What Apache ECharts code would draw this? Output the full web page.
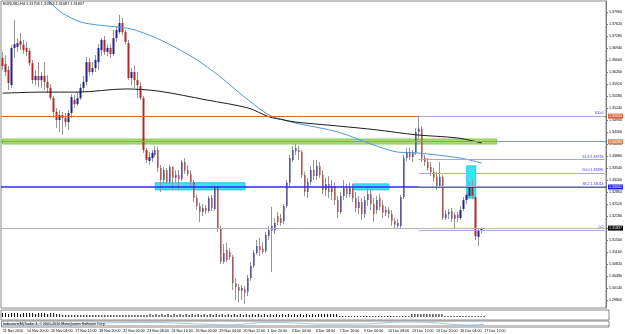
<!DOCTYPE html>
<html>
<head>
<meta charset="utf-8">
<title>EURUSD,H4</title>
<script src="https://cdn.jsdelivr.net/npm/echarts@6/dist/echarts.min.js"></script>
<style>
  html, body { margin: 0; padding: 0; background: #fff; }
  #chart { width: 625px; height: 334px; }
</style>
</head>
<body>
<div id="chart"></div>
<script>
// H4 bars, oldest first
var opens = [
  1.3666,1.3649,1.3632,1.3589,1.3694,1.3697,1.3714,1.3703,1.3694,1.3686,
  1.3651,1.3603,1.3615,1.3603,1.3615,1.3598,1.3581,1.3552,1.3513,1.3490,
  1.3504,1.3496,1.3484,1.3510,1.3547,1.3535,1.3552,1.3581,1.3598,1.3654,
  1.3626,1.3637,1.3654,1.3688,1.3717,1.3683,1.3694,1.3677,1.3722,1.3739,
  1.3765,1.3739,1.3708,1.3609,1.3626,1.3603,1.3586,1.3552,1.3405,1.3374,
  1.3382,1.3391,1.3405,1.3354,1.3320,1.3348,1.3314,1.3357,1.3326,1.3334,
  1.3323,1.3371,1.3348,1.3337,1.3314,1.3269,1.3246,1.3229,1.3241,1.3232,
  1.3269,1.3238,1.3300,1.3184,1.3088,1.3122,1.3116,1.3102,1.3028,1.3017,
  1.3006,1.3011,1.3003,1.3042,1.3076,1.3113,1.3133,1.3125,1.3119,1.3161,
  1.3176,1.3178,1.3218,1.3212,1.3204,1.3246,1.3312,1.3377,1.3402,1.3405,
  1.3399,1.3334,1.3286,1.3314,1.3348,1.3331,1.3360,1.3334,1.3292,1.3309,
  1.3286,1.3303,1.3263,1.3229,1.3275,1.3297,1.3280,1.3297,1.3269,1.3241,
  1.3258,1.3224,1.3263,1.3280,1.3252,1.3235,1.3269,1.3249,1.3227,1.3235,
  1.3224,1.3204,1.3190,1.3190,1.3272,1.3382,1.3399,1.3385,1.3397,1.3456,
  1.3465,1.3382,1.3371,1.3357,1.3343,1.3329,1.3303,1.3329,1.3212,1.3224,
  1.3232,1.3210,1.3221,1.3212,1.3238,1.3263,1.3275,1.3303,1.3272,1.3159,
  1.31758
];
var highs = [
  1.3683,1.3674,1.3643,1.3703,1.3773,1.3722,1.3737,1.3717,1.3711,1.3694,
  1.3660,1.3632,1.3654,1.3626,1.3654,1.3617,1.3592,1.3558,1.3524,1.3518,
  1.3513,1.3510,1.3518,1.3564,1.3561,1.3569,1.3592,1.3615,1.3669,1.3666,
  1.3654,1.3674,1.3705,1.3722,1.3728,1.3703,1.3705,1.3745,1.3756,1.3788,
  1.3779,1.3745,1.3717,1.3637,1.3643,1.3626,1.3598,1.3558,1.3411,1.3399,
  1.3405,1.3416,1.3414,1.3363,1.3357,1.3354,1.3363,1.3360,1.3348,1.3348,
  1.3377,1.3382,1.3363,1.3348,1.3320,1.3278,1.3255,1.3252,1.3249,1.3275,
  1.3278,1.3306,1.3303,1.3190,1.3139,1.3142,1.3127,1.3108,1.3042,1.3025,
  1.3023,1.3020,1.3051,1.3088,1.3122,1.3150,1.3156,1.3144,1.3173,1.3190,
  1.3244,1.3212,1.3229,1.3224,1.3252,1.3320,1.3391,1.3416,1.3422,1.3416,
  1.3405,1.3343,1.3326,1.3360,1.3377,1.3377,1.3371,1.3348,1.3326,1.3331,
  1.3320,1.3314,1.3275,1.3286,1.3320,1.3309,1.3312,1.3309,1.3286,1.3275,
  1.3269,1.3275,1.3297,1.3292,1.3269,1.3275,1.3280,1.3263,1.3246,1.3244,
  1.3235,1.3212,1.3210,1.3278,1.3391,1.3411,1.3411,1.3405,1.3467,1.3501,
  1.3473,1.3391,1.3382,1.3371,1.3354,1.3343,1.3371,1.3334,1.3235,1.3238,
  1.3241,1.3229,1.3229,1.3246,1.3272,1.3286,1.3314,1.3320,1.3280,1.3181,
  1.31853
];
var lows = [
  1.3632,1.3615,1.3575,1.3581,1.3666,1.3683,1.3688,1.3677,1.3671,1.3643,
  1.3592,1.3589,1.3583,1.3581,1.3575,1.3566,1.3547,1.3496,1.3467,1.3456,
  1.3448,1.3470,1.3462,1.3496,1.3524,1.3530,1.3547,1.3569,1.3589,1.3615,
  1.3617,1.3626,1.3632,1.3671,1.3674,1.3671,1.3666,1.3671,1.3711,1.3734,
  1.3731,1.3705,1.3603,1.3589,1.3581,1.3552,1.3547,1.3397,1.3368,1.3363,
  1.3371,1.3385,1.3343,1.3286,1.3309,1.3309,1.3309,1.3292,1.3314,1.3292,
  1.3317,1.3337,1.3331,1.3303,1.3258,1.3235,1.3201,1.3218,1.3224,1.3227,
  1.3232,1.3232,1.3173,1.3082,1.3082,1.3088,1.3093,1.3008,1.2980,1.2974,
  1.2980,1.2969,1.2991,1.3034,1.3071,1.3108,1.3105,1.3110,1.3113,1.3150,
  1.3059,1.3167,1.3193,1.3190,1.3195,1.3241,1.3303,1.3371,1.3391,1.3377,
  1.3326,1.3275,1.3269,1.3306,1.3320,1.3320,1.3326,1.3280,1.3275,1.3269,
  1.3263,1.3249,1.3212,1.3224,1.3263,1.3269,1.3272,1.3258,1.3229,1.3224,
  1.3207,1.3212,1.3246,1.3235,1.3201,1.3224,1.3235,1.3212,1.3218,1.3212,
  1.3190,1.3181,1.3181,1.3181,1.3266,1.3374,1.3377,1.3371,1.3391,1.3433,
  1.3371,1.3360,1.3346,1.3331,1.3314,1.3292,1.3297,1.3207,1.3207,1.3210,
  1.3201,1.3184,1.3201,1.3207,1.3232,1.3252,1.3269,1.3266,1.3150,1.3133,
  1.31687
];
var closes = [
  1.3643,1.3626,1.3595,1.3694,1.3705,1.3708,1.3703,1.3688,1.3683,1.3651,
  1.3603,1.3615,1.3603,1.3615,1.3598,1.3581,1.3552,1.3513,1.3490,1.3504,
  1.3496,1.3484,1.3510,1.3555,1.3535,1.3552,1.3581,1.3598,1.3654,1.3626,
  1.3637,1.3660,1.3694,1.3717,1.3683,1.3694,1.3677,1.3722,1.3745,1.3765,
  1.3739,1.3711,1.3609,1.3626,1.3603,1.3589,1.3552,1.3405,1.3377,1.3385,
  1.3397,1.3405,1.3354,1.3320,1.3348,1.3314,1.3357,1.3326,1.3334,1.3323,
  1.3371,1.3346,1.3337,1.3314,1.3269,1.3246,1.3229,1.3241,1.3232,1.3269,
  1.3241,1.3300,1.3184,1.3088,1.3113,1.3093,1.3102,1.3028,1.3017,1.3006,
  1.3014,1.3000,1.3042,1.3076,1.3113,1.3133,1.3122,1.3116,1.3164,1.3178,
  1.3190,1.3198,1.3201,1.3198,1.3246,1.3312,1.3382,1.3405,1.3411,1.3399,
  1.3334,1.3286,1.3314,1.3348,1.3331,1.3360,1.3334,1.3292,1.3309,1.3286,
  1.3303,1.3263,1.3229,1.3275,1.3297,1.3280,1.3297,1.3269,1.3241,1.3258,
  1.3224,1.3263,1.3280,1.3252,1.3224,1.3263,1.3244,1.3227,1.3235,1.3224,
  1.3204,1.3193,1.3198,1.3272,1.3382,1.3399,1.3385,1.3397,1.3456,1.3465,
  1.3382,1.3371,1.3354,1.3343,1.3326,1.3300,1.3329,1.3212,1.3224,1.3229,
  1.3210,1.3221,1.3212,1.3235,1.3263,1.3278,1.3303,1.3275,1.3161,1.3176,
  1.31837
];

// moving averages, read at a few bars: [bar, price]
var maFast = [[13,1.3847],[15,1.3830],[20,1.3793],[26,1.3768],[32,1.3759],[38,1.3754],
  [43,1.3748],[47,1.3737],[52,1.3720],[58,1.3694],[65,1.3660],[72,1.3617],[78,1.3575],
  [82,1.3547],[89,1.3504],[94,1.3490],[98,1.3481],[112,1.3456],[125,1.3416],[132,1.3399],
  [138,1.3397],[153,1.3382],[160,1.3368]];
var maSlow = [[0,1.3566],[13,1.3569],[25,1.3569],[41,1.3578],[52,1.3572],[68,1.3547],
  [82,1.3524],[89,1.3499],[94,1.3490],[98,1.3484],[112,1.3473],[125,1.3462],[138,1.3448],
  [152,1.3439],[160,1.3425]];

// horizontal levels drawn on the chart
var levelPrices = [1.35010, 1.34285, 1.33002];
var fibRatios = [100.0, 61.8, 50.0, 38.2, 0.0];
var fibHigh = 1.35010, fibLow = 1.31780, fibStartBar = 139;
// shaded zones: [fromBar, toBar] and [top, bottom]
var zoneBars = [[0, 165], [51, 81], [117, 129], [155, 158]];
var zonePrices = [[1.3436, 1.3422], [1.3312, 1.3292], [1.3309, 1.3292], [1.3360, 1.3269]];

// sub windows
var histValues = [
  4,4,3,4,4,4,3,4,4,4,4,3,4,4,4,3,4,4,3,3,
  2,2,2,2,2,2,2,2,2,2,2,2,2,2,2,2,2,2,2,2,2,2,2,2,2,2,2,2,2,
  3,2,3,2,3,2,3,2,3,2,3,2,3,2,3,2,3,2,3,2,3,2,3,2,3,2,3,2,3,2,
  3,2,3,2,3,2,3,2,3,2,3,2,3,2,3,2,3,2,3,2,3,2,3,2,3,2,3,
  3,3,3,3,3,3,
  1,1,1,1,1,1,1,1,1,1,1,1,1,1,1,1,1,1,1,1,1,1,1,1,
  3,3,3,3,3,3,3,3,3,3,3,
  1,1,1,1,1,1,1,1,1,1,1,1,1,1
];
var subLine = [[0,3],[20,3.2],[35,4.2],[50,4.5],[65,3],[75,2.2],[88,4.5],[95,4.2],
  [107,2.8],[120,3],[133,5],[140,4.8],[150,2.5],[155,2],[160,2.6]];

// axes
var priceTicks = [1.2980,1.3014,1.3048,1.3082,1.3116,1.3150,1.3184,1.3218,1.3252,1.3286,
  1.3320,1.3354,1.3388,1.3422,1.3456,1.3490,1.3524,1.3558,1.3592,1.3626,1.3660,1.3694,
  1.3728,1.3762,1.3796];
var priceMin = 1.29573, priceMax = 1.38272;
var dateLabels = ['11 Nov 2010','14 Nov 20:00','16 Nov 04:00','17 Nov 12:00','18 Nov 20:00',
  '22 Nov 00:00','23 Nov 08:00','24 Nov 16:00','26 Nov 00:00','29 Nov 04:00','30 Nov 12:00',
  '1 Dec 20:00','3 Dec 04:00','6 Dec 08:00','7 Dec 16:00','9 Dec 00:00','10 Dec 08:00',
  '13 Dec 12:00','14 Dec 20:00','16 Dec 04:00','17 Dec 12:00'];
var dateStep = 8;
var slotCount = 202;

var titleText = 'EURUSD,H4 1.31758 1.31853 1.31687 1.31837';
var subTitle = 'Indicators(M)Trader 4, \u00a9 2001-2010 MetaQuotes Software Corp.';

var chart = echarts.init(document.getElementById('chart'));
var font = 'Liberation Sans';

var cats = [];
for (var i = 0; i < slotCount; i++) cats.push(String(i));

var candleData = opens.map(function (o, i) { return [o, closes[i], lows[i], highs[i]]; });
var bodyData = opens.map(function (o, i) {
  return [o, closes[i], Math.min(o, closes[i]), Math.max(o, closes[i])];
});
var bid = closes[closes.length - 1];

function fullLine(value, color, bg, width) {
  return {
    yAxis: value,
    lineStyle: { color: color, width: width || 1, type: 'solid', opacity: 1 },
    label: {
      show: true, position: 'end', distance: 2, formatter: value.toFixed(5),
      backgroundColor: bg, color: '#fff', fontSize: 3.6, fontFamily: font, padding: [1, 1, 0, 1]
    }
  };
}

var lineMarks = [
  fullLine(levelPrices[0], '#cc6a3e', '#e4603c'),
  fullLine(levelPrices[1], '#ee7a2c', '#f08030'),
  fullLine(levelPrices[2], '#2a2af4', '#2020e0', 1.5),
  fullLine(bid, '#b4b4b4', '#000')
];
fibRatios.forEach(function (r) {
  var p = fibLow + (fibHigh - fibLow) * r / 100;
  var txt = (r === 100 || r === 0) ? r.toFixed(1) : r.toFixed(1) + ' ' + p.toFixed(5);
  lineMarks.push([
    {
      coord: [fibStartBar, p],
      lineStyle: { color: '#a6a6e2', width: 1, type: 'solid' },
      label: { show: true, position: 'insideEndTop', distance: 1, formatter: txt,
        color: '#3434b4', fontSize: 3.6, fontFamily: font }
    },
    { coord: [slotCount - 1, p] }
  ]);
});

var zoneStyles = [
  { color: '#a6de7c', borderColor: '#84c858', borderWidth: 1 },
  { color: '#40e2f2', borderColor: '#20c8e2', borderWidth: 1 },
  { color: '#40e2f2', borderColor: '#20c8e2', borderWidth: 1 },
  { color: '#40e2f2', borderColor: '#20c8e2', borderWidth: 1 }
];
var zones = zoneBars.map(function (b, i) {
  return [
    { coord: [b[0], zonePrices[i][0]], itemStyle: zoneStyles[i] },
    { coord: [b[1], zonePrices[i][1]] }
  ];
});

function hiddenX(idx) {
  return {
    type: 'category', gridIndex: idx, data: cats, boundaryGap: true,
    axisLine: { show: false }, axisTick: { show: false }, axisLabel: { show: false },
    splitLine: { show: false }
  };
}
var dateX = hiddenX(2);
dateX.axisLabel = {
  show: true, fontSize: 3.6, fontFamily: font, color: '#000', margin: 2, align: 'left',
  interval: function (i) { return i % dateStep === 0 && i / dateStep < dateLabels.length; },
  formatter: function (v, i) { return dateLabels[i / dateStep] || ''; }
};

var gridStyle = { show: true, borderColor: '#8a8a8a', borderWidth: 1, backgroundColor: '#fff' };

chart.setOption({
  animation: false,
  backgroundColor: '#fff',
  title: [
    { text: titleText, left: 3, top: 2, padding: 0,
      textStyle: { fontSize: 3.8, fontWeight: 'normal', color: '#000', fontFamily: font } },
    { text: subTitle, left: 3, top: 322, padding: 0,
      textStyle: { fontSize: 3.6, fontWeight: 'normal', color: '#000', fontFamily: font } }
  ],
  grid: [
    Object.assign({ left: 1, right: 16, top: 1, height: 307 }, gridStyle),
    Object.assign({ left: 1, right: 16, top: 310, height: 10 }, gridStyle),
    Object.assign({ left: 1, right: 16, top: 321, height: 6 }, gridStyle)
  ],
  xAxis: [hiddenX(0), hiddenX(1), dateX],
  yAxis: [
    {
      type: 'value', gridIndex: 0, position: 'right', min: priceMin, max: priceMax,
      axisLine: { show: true, lineStyle: { color: '#7a7a7a' } },
      axisTick: { show: true, length: 2, customValues: priceTicks, lineStyle: { color: '#7a7a7a' } },
      axisLabel: { customValues: priceTicks, fontSize: 3.6, fontFamily: font, color: '#000', margin: 3,
        formatter: function (v) { return v.toFixed(5); } },
      splitLine: { show: false }
    },
    { type: 'value', gridIndex: 1, min: -3, max: 7, position: 'right',
      axisLine: { show: false }, axisTick: { show: false }, axisLabel: { show: false }, splitLine: { show: false } },
    { type: 'value', gridIndex: 2, min: 0, max: 6, position: 'right',
      axisLine: { show: false }, axisTick: { show: false }, axisLabel: { show: false }, splitLine: { show: false } }
  ],
  series: [
    {
      name: 'wicks', type: 'candlestick', xAxisIndex: 0, yAxisIndex: 0, data: candleData,
      barWidth: 0.5, silent: true,
      itemStyle: { color: '#959595', color0: '#959595', borderColor: '#959595', borderColor0: '#959595', borderWidth: 1 },
      markArea: { silent: true, data: zones }
    },
    {
      name: 'EURUSD', type: 'candlestick', xAxisIndex: 0, yAxisIndex: 0, data: bodyData,
      barWidth: 2, silent: true,
      itemStyle: { color: '#22228e', color0: '#b02a2a', borderColor: '#22228e', borderColor0: '#b02a2a', borderWidth: 0 },
      markLine: { silent: true, precision: 5, symbol: ['none', 'none'], animation: false, data: lineMarks }
    },
    {
      name: 'MA fast', type: 'line', xAxisIndex: 0, yAxisIndex: 0, data: maFast,
      smooth: 0.3, symbol: 'none', clip: true, lineStyle: { color: '#4c9ad8', width: 1 }
    },
    {
      name: 'MA slow', type: 'line', xAxisIndex: 0, yAxisIndex: 0, data: maSlow,
      smooth: 0.3, symbol: 'none', clip: true, lineStyle: { color: '#1c1c1c', width: 1 }
    },
    {
      name: 'hist', type: 'bar', xAxisIndex: 1, yAxisIndex: 1, data: histValues,
      barWidth: 1, itemStyle: { color: '#000' }
    },
    {
      name: 'osc', type: 'line', xAxisIndex: 2, yAxisIndex: 2, data: subLine,
      smooth: 0.4, symbol: 'none', lineStyle: { color: '#9cc6ea', width: 1 },
      markLine: { silent: true, symbol: ['none', 'none'], label: { show: false },
        lineStyle: { color: '#8a8a8a', type: 'dotted', width: 1 }, data: [{ yAxis: 2 }] }
    }
  ]
});
</script>
</body>
</html>
